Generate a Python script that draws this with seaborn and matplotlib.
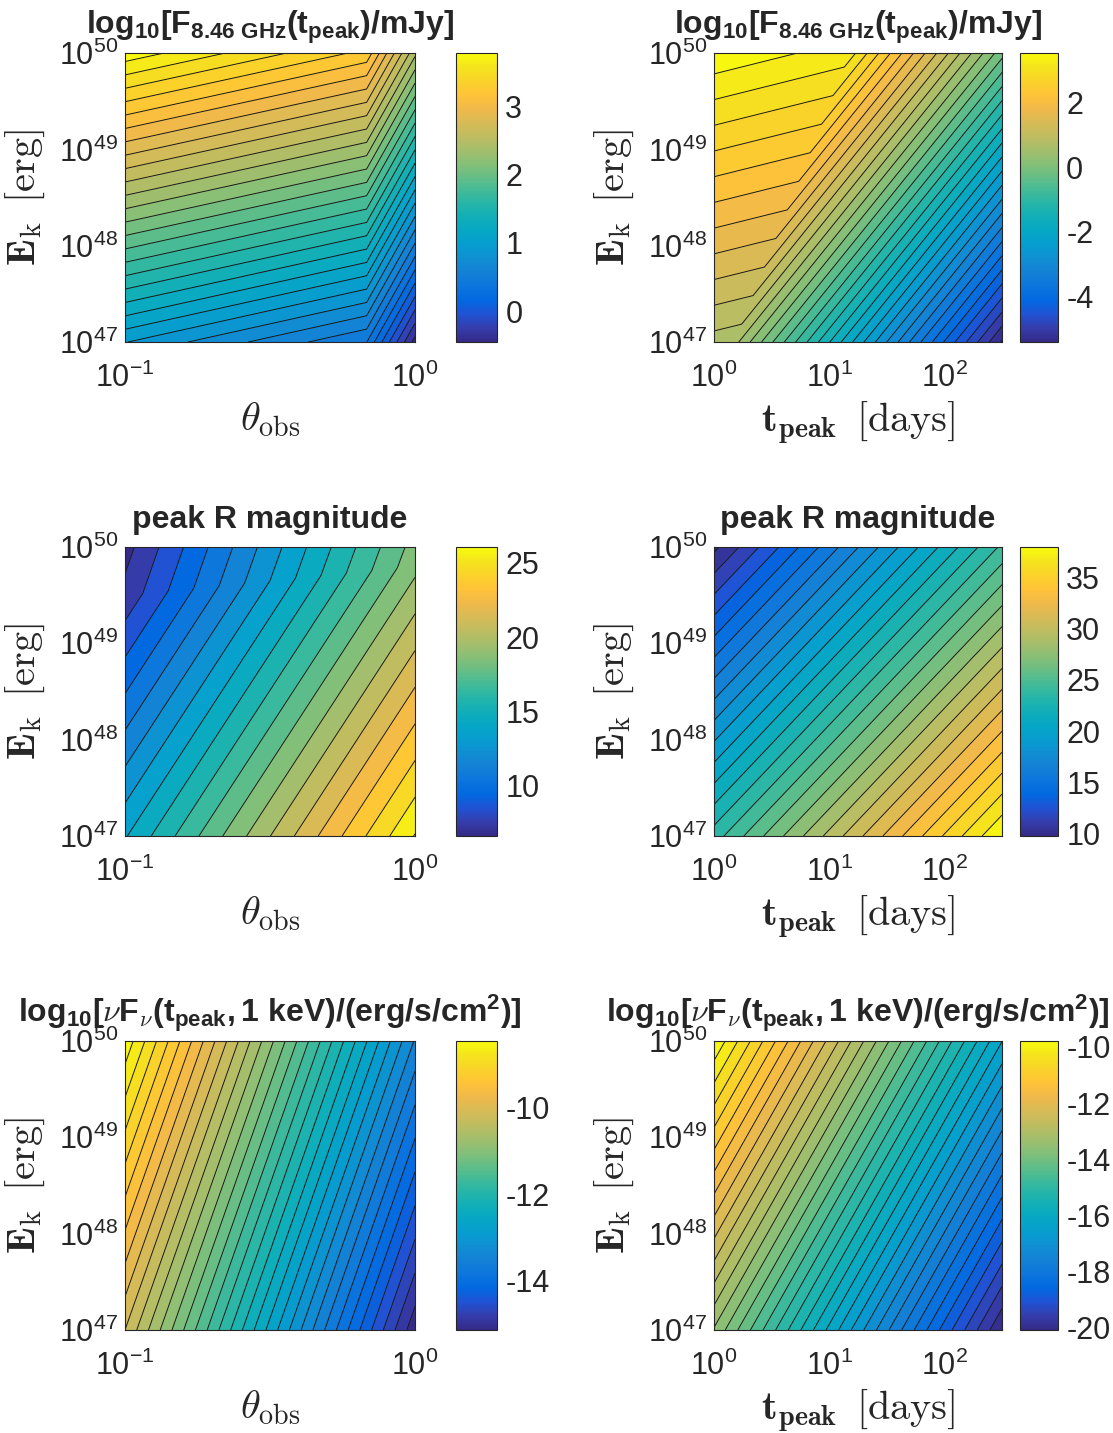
import numpy as np
import matplotlib
matplotlib.use("Agg")
import matplotlib.pyplot as plt
import seaborn as sns
from matplotlib.colors import Normalize
from matplotlib.cm import ScalarMappable

# MATLAB parula, every third entry of the 64-colour table
PARULA = [
    (0.2081, 0.1663, 0.5292), (0.2081, 0.2386, 0.6771), (0.1253, 0.3242, 0.8303),
    (0.0060, 0.4086, 0.8828), (0.0498, 0.4586, 0.8641), (0.0779, 0.5040, 0.8384),
    (0.0641, 0.5570, 0.8240), (0.0265, 0.6137, 0.8135), (0.0228, 0.6535, 0.7768),
    (0.0590, 0.6838, 0.7254), (0.1453, 0.7098, 0.6646), (0.2586, 0.7317, 0.5954),
    (0.3953, 0.7459, 0.5244), (0.5300, 0.7491, 0.4661), (0.6473, 0.7456, 0.4188),
    (0.7525, 0.7384, 0.3768), (0.8507, 0.7299, 0.3360), (0.9450, 0.7261, 0.2886),
    (0.9990, 0.7653, 0.2164), (0.9789, 0.8271, 0.1633), (0.9589, 0.8949, 0.1132),
    (0.9763, 0.9831, 0.0538),
]

# grid nodes are log10 values; inner nodes sit on the kinks of the contours
logE_rows = [47.0, 50.0]
theta_cols = [-1.0, 0.0]
tpeak_cols = [0.0, 2.5]

# radio flux vs theta_obs, kink at theta ~ 0.68
radio_theta_cols = [-1.0, -0.167, 0.0]
radio_theta = [[0.93, 0.40, -0.45],
               [3.78, 3.26, 2.41]]

# radio flux vs t_peak, kink runs diagonally (~1.5 d at 1e47 to ~15 d at 1e50)
radio_tpeak_cols = [[0.0, 0.178, 2.5],
                    [0.0, 1.18, 2.5]]
radio_tpeak = [[0.66, 0.61, -5.43],
               [3.55, 3.21, -0.16]]

# peak R magnitude vs theta_obs, weak kink just below 1e50 erg
rmag_theta_rows = [[47.0, 47.0], [49.5, 49.8], [50.0, 50.0]]
rmag_theta = [[13.9, 26.06],
              [7.3, 18.7],
              [6.62, 18.4]]

rmag_tpeak = [[23.5, 38.0],
              [9.74, 24.2]]

xray_theta = [[-10.2, -15.14],
              [-8.46, -13.42]]
xray_tpeak = [[-13.52, -20.08],
              [-9.79, -16.35]]

level_steps = [0.132, 0.257, 1.0, 1.0, 0.2, 0.287]
cbar_ticks = [[0, 1, 2, 3], [-4, -2, 0, 2], [10, 15, 20, 25],
              [10, 15, 20, 25, 30, 35], [-14, -12, -10],
              [-20, -18, -16, -14, -12, -10]]

TITLE_RADIO = r'$\mathdefault{log_{10}[F_{8.46\ GHz}(t_{peak})/mJy]}$'
TITLE_RMAG = 'peak R magnitude'
TITLE_XRAY = (r'$\mathdefault{log_{10}[}\nu\mathdefault{F}_{\nu}'
              r'\mathdefault{(t_{peak},1\ keV)/(erg/s/cm^{2})]}$')
XLABEL_THETA = r'$\theta_{\mathrm{obs}}$'
XLABEL_TPEAK = r'$\mathbf{t}_{\mathbf{peak}}\ \,[\mathrm{days}]$'
YLABEL = r'$\mathbf{E}_{\mathrm{k}}\ \,[\mathrm{erg}]$'

# layout (figure fractions)
AX_LEFT = [0.1123, 0.6415]
AX_W = [0.2606, 0.2588]
CB_LEFT = [0.4097, 0.9164]
CB_W = [0.0368, 0.0341]
ROW_BOTTOM = [0.7613, 0.4166, 0.0719]
ROW_H = 0.2017

sns.set_theme(style="ticks")
plt.rcParams['font.family'] = ['Liberation Sans', 'DejaVu Sans']
plt.rcParams['mathtext.fontset'] = 'cm'
plt.rcParams['axes.unicode_minus'] = False
plt.rcParams['contour.negative_linestyle'] = 'solid'

cmap = sns.blend_palette(PARULA, n_colors=256, as_cmap=True)


def grid(cols, rows, z):
    z = np.asarray(z, float)
    cols = np.asarray(cols, float)
    rows = np.asarray(rows, float)
    if cols.ndim == 1:
        cols = np.broadcast_to(cols, z.shape)
    if rows.ndim == 1:
        rows = np.broadcast_to(rows[:, None], z.shape)
    return cols, rows, z


def log_axis(axis, lo, hi):
    majors = np.arange(np.ceil(lo), np.floor(hi) + 1)
    minors = [d + np.log10(m) for d in range(int(np.floor(lo)), int(np.ceil(hi)))
              for m in range(2, 10)]
    axis.set_ticks(majors)
    axis.set_ticklabels([rf'$\mathdefault{{10^{{{int(v)}}}}}$' for v in majors])
    axis.set_ticks([v for v in minors if lo < v < hi], minor=True)


panels = [
    (grid(radio_theta_cols, logE_rows, radio_theta), TITLE_RADIO, XLABEL_THETA, (-1, 0)),
    (grid(radio_tpeak_cols, logE_rows, radio_tpeak), TITLE_RADIO, XLABEL_TPEAK, (0, 2.5)),
    (grid(theta_cols, rmag_theta_rows, rmag_theta), TITLE_RMAG, XLABEL_THETA, (-1, 0)),
    (grid(tpeak_cols, logE_rows, rmag_tpeak), TITLE_RMAG, XLABEL_TPEAK, (0, 2.5)),
    (grid(theta_cols, logE_rows, xray_theta), TITLE_XRAY, XLABEL_THETA, (-1, 0)),
    (grid(tpeak_cols, logE_rows, xray_tpeak), TITLE_XRAY, XLABEL_TPEAK, (0, 2.5)),
]

fig = plt.figure(figsize=(11.13, 14.33), dpi=100)

for i, ((X, Y, Z), title, xlabel, xlim) in enumerate(panels):
    row, col = divmod(i, 2)
    ax = fig.add_axes([AX_LEFT[col], ROW_BOTTOM[row], AX_W[col], ROW_H])
    cax = fig.add_axes([CB_LEFT[col], ROW_BOTTOM[row], CB_W[col], ROW_H])

    norm = Normalize(Z.min(), Z.max())
    step = level_steps[i]
    levels = np.arange(np.floor(Z.min() / step) * step, Z.max() + step, step)
    ax.contourf(X, Y, Z, levels=levels, cmap=cmap, norm=norm)
    ax.contour(X, Y, Z, levels=levels, colors='k', linewidths=0.7,
               linestyles='solid')

    log_axis(ax.xaxis, *xlim)
    log_axis(ax.yaxis, 47, 50)
    ax.set_xlim(*xlim)
    ax.set_ylim(47, 50)
    ax.tick_params(which='both', direction='in', top=True, right=True,
                   colors='0.15', labelsize=22, width=0.6)
    ax.tick_params(which='major', length=5)
    ax.tick_params(which='minor', length=2.5)
    ax.tick_params(axis='x', pad=15)
    ax.tick_params(axis='y', pad=5)
    for sp in ax.spines.values():
        sp.set_linewidth(0.8)
        sp.set_color('0.15')

    ax.set_title(title, fontsize=23, fontweight='bold', pad=14)
    ax.set_xlabel(xlabel, fontsize=29, color='0.15')
    ax.set_ylabel(YLABEL, fontsize=29, color='0.15')
    ax.xaxis.set_label_coords(0.5, -0.2)
    ax.yaxis.set_label_coords(-0.27, 0.5)

    cb = fig.colorbar(ScalarMappable(norm=norm, cmap=cmap), cax=cax, ticks=cbar_ticks[i])
    cb.outline.set_linewidth(0.8)
    cb.outline.set_edgecolor('0.15')
    cax.tick_params(direction='in', length=5, width=0.6, labelsize=22,
                    colors='0.15', pad=6)

fig.savefig("out.png", dpi=100)
